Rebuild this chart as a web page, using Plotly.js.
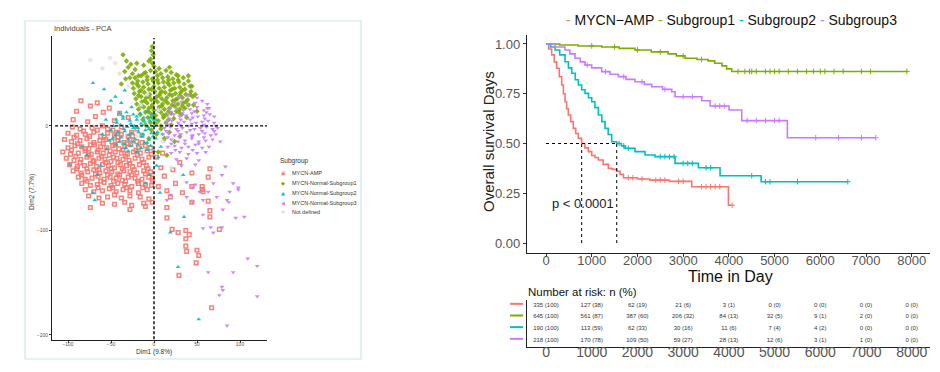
<!DOCTYPE html>
<html><head><meta charset="utf-8">
<script src="https://cdn.plot.ly/plotly-3.0.1.min.js"></script>
<style>html,body{margin:0;padding:0;background:#fff}#chart{width:940px;height:372px}</style>
</head><body><div id="chart"></div>
<script>
// ---------------- PCA (Individuals) data: [Dim1, Dim2] ----------------
const pcaAmp = [[-90,14],[-74,19],[-94,6],[-77,4],[-59,13],[-52,17],[-40,12],[-66,22],[-85,24],[-68,9],[-46,5],[-30,8],
[-95,-1],[-86,-3],[-72,-2],[-60,0],[-48,-4],[-38,-1],[-20,-3],
[-100,-7],[-90,-9],[-80,-8],[-70,-6],[-62,-10],[-54,-7],[-46,-9],[-38,-8],[-30,-10],
[-104,-13],[-96,-15],[-86,-14],[-78,-12],[-70,-16],[-63,-14],[-56,-13],[-49,-15],[-42,-14],[-35,-16],[-28,-13],[-20,-15],
[-100,-21],[-92,-19],[-84,-20],[-76,-22],[-69,-18],[-62,-20],[-55,-21],[-48,-19],[-41,-22],[-34,-20],[-27,-18],[-18,-21],[-10,-19],
[-106,-25],[-97,-27],[-88,-26],[-80,-24],[-73,-27],[-66,-25],[-59,-26],[-52,-28],[-45,-25],[-38,-26],[-31,-27],[-24,-25],[-16,-26],[-8,-24],
[-102,-31],[-93,-33],[-85,-32],[-78,-30],[-71,-33],[-64,-31],[-57,-32],[-50,-34],[-43,-31],[-36,-32],[-29,-33],[-22,-31],[-14,-32],[-6,-30],
[-98,-37],[-89,-39],[-81,-38],[-74,-36],[-67,-39],[-60,-37],[-53,-38],[-46,-40],[-39,-37],[-32,-38],[-25,-39],[-17,-37],[-9,-38],
[-94,-43],[-85,-45],[-77,-44],[-70,-42],[-63,-45],[-56,-43],[-49,-44],[-42,-46],[-35,-43],[-28,-44],[-20,-45],[-12,-43],[-4,-44],
[-88,-49],[-80,-51],[-72,-50],[-65,-48],[-58,-51],[-51,-49],[-44,-50],[-37,-52],[-30,-49],[-22,-50],[-14,-51],[-6,-49],
[-84,-55],[-74,-57],[-66,-56],[-58,-54],[-50,-57],[-42,-55],[-34,-56],[-26,-58],[-18,-55],[-10,-56],[-3,-57],
[-80,-61],[-70,-63],[-60,-62],[-52,-60],[-44,-63],[-36,-61],[-28,-62],[-18,-64],[-8,-61],
[-76,-67],[-64,-69],[-54,-68],[-46,-66],[-38,-69],[-28,-67],[-16,-68],[-6,-70],
[-60,-74],[-46,-75],[-34,-73],[-26,-76],[-12,-74],[-2,-73],[-74,-78],[-28,-80],[-10,-77],
[-82,-5],[-66,-4],[-54,-3],[-42,-6],[-26,-6],
[-93,-11],[-75,-10],[-58,-11],[-42,-11],[-25,-10],[-14,-9],
[-89,-17],[-74,-18],[-59,-17],[-45,-18],[-31,-17],[-14,-16],
[-96,-23],[-80,-22],[-65,-23],[-51,-24],[-36,-23],[-21,-23],[-4,-21],
[-91,-29],[-76,-28],[-61,-29],[-47,-30],[-33,-29],[-19,-28],[-3,-27],
[-86,-35],[-70,-34],[-56,-35],[-42,-35],[-28,-36],[-12,-35],
[-90,-41],[-78,-41],[-64,-42],[-50,-41],[-37,-41],[-23,-42],[-7,-41],
[-84,-47],[-68,-46],[-54,-47],[-40,-47],[-26,-47],[-10,-46],
[-78,-53],[-62,-53],[-47,-53],[-33,-53],[-19,-53],[-2,-52],
[-65,-59],[-48,-59],[-32,-59],[-13,-59],
[3,-30],[8,-40],[-2,-50],[5,-58],[12,-48],[15,-62],[19,-68],[10,-26],[44,-45],[65,-41],[63,-49],[56,-58],[57,-63],[15,-78],
[65,-81],[15,-88],[21,-99],[28,-102],[37,-100],[37,-108],[41,-104],[37,-115],[38,-120],[50,-119],[52,-124],[49,-131],
[29,-143],[67,-174],[76,-99],[65,-87],[63,-72],[56,-61],[44,-73],[33,-64],[44,-58],[25,-55],[30,-35],[22,-42]];
const pcaSub1 = [[-3,72],[-1,68],[-4,64],[-2,60],[0,57],[-6,62],[-2,76],
[-36,68],[-32,62],[-30,56],[-27,59],[-34,52],[-25,50],[-22,54],[-28,46],[-33,45],[-20,60],[-18,48],[-12,58],[-38,40],
[-10,51],[-4,53],[2,52],[8,50],[14,53],[20,51],[26,49],
[-22,46],[-15,48],[-8,47],[-2,45],[4,48],[10,46],[16,47],[22,45],[28,48],[34,46],
[-25,41],[-19,43],[-13,42],[-7,40],[-1,43],[5,41],[11,42],[17,44],[23,41],[29,42],[35,40],[40,43],
[-24,36],[-18,38],[-12,37],[-6,35],[0,38],[6,36],[12,37],[18,39],[24,36],[30,37],[36,35],[42,38],
[-23,31],[-17,33],[-11,32],[-5,30],[1,33],[7,31],[13,32],[19,34],[25,31],[31,32],[37,30],[43,33],
[-21,26],[-15,28],[-9,27],[-3,25],[3,28],[9,26],[15,27],[21,29],[27,26],[33,27],[39,25],[45,28],
[-20,21],[-14,23],[-8,22],[-2,20],[4,23],[10,21],[16,22],[22,24],[28,21],[34,22],[40,20],
[-18,16],[-12,18],[-6,17],[0,15],[6,18],[12,16],[18,17],[24,19],[30,16],[36,17],
[-16,11],[-10,13],[-4,12],[2,10],[8,13],[14,11],[20,12],[26,14],[32,11],
[-13,6],[-7,8],[-1,7],[5,5],[11,8],[17,6],[23,7],
[-10,1],[-4,3],[2,2],[8,0],[14,3],[20,1],
[-20,40],[-8,44],[4,44],[16,41],[28,44],[-15,34],[-3,35],[9,33],[21,35],[33,34],[-18,29],[-6,28],[6,29],[18,30],[30,29],[42,30],
[-11,24],[1,25],[13,24],[25,25],[37,23],[-15,19],[-3,18],[9,19],[21,20],[33,19],[-7,14],[5,15],[17,14],[29,13],[-1,9],[11,10],
[-12,50],[6,55],[18,56],
[44,38],[48,30],[40,48],[46,20],[50,14],[38,8],[-3,-4],[3,-8],[8,-3],[12,-12],[18,-6],[24,-15],[-6,-12],[30,-10],[5,-25],[15,-28]];
const pcaSub2 = [[-71,41],[-58,35],[-34,34],[-45,28],[-50,24],[-38,22],[-98,-37],[-66,-47],[-71,-64],[-69,-71],[-10,-55],[-5,-47],
[34,-47],[35,-87],[19,-102],[28,-135],[52,-185],[7,-64],[-84,-20],[-78,-28],[-62,-38],[-55,-22],
[-40,12],[-32,13],[-24,11],[-16,12],[-8,14],[-2,11],
[-44,6],[-36,7],[-28,5],[-20,6],[-12,8],[-5,5],[2,6],
[-47,0],[-39,1],[-31,-1],[-23,0],[-15,2],[-7,-1],[0,0],
[-42,-6],[-34,-5],[-26,-7],[-18,-6],[-10,-4],[-3,-7],[4,-6],
[-48,-12],[-38,-11],[-30,-13],[-22,-12],[-14,-10],[-6,-13],[2,-12],
[-44,-18],[-35,-17],[-27,-19],[-19,-18],[-11,-16],[-4,-19],
[-30,-24],[-20,-25],[-8,-23],[0,-24],
[-36,9],[-20,9],[-4,8],[-43,3],[-27,2],[-11,4],[-35,-3],[-19,-2],[-6,-3],[-45,-9],[-29,-9],[-13,-8],[-1,-10],
[-40,-15],[-24,-15],[-8,-16],[-33,-21],[-15,-21],[-24,-2],[-50,-4],
[5,-30],[8,-20],[3,-38],[10,-8],[-52,-14],[-60,-8],[-26,18],[-14,20],[-56,6]];
const pcaSub3 = [[30,28],[40,29],[50,27],
[24,22],[32,23],[40,21],[48,22],[56,24],[62,21],
[18,16],[26,17],[34,15],[42,16],[50,18],[58,15],[64,17],
[16,10],[23,11],[30,9],[37,10],[44,12],[51,9],[58,10],[65,11],[70,9],
[14,4],[21,5],[28,3],[35,4],[42,6],[49,3],[56,4],[63,5],[70,3],
[12,-2],[19,-1],[26,-3],[33,-2],[40,0],[47,-3],[54,-2],[61,-1],[68,-3],[74,-2],
[10,-8],[17,-7],[24,-9],[31,-8],[38,-6],[45,-9],[52,-8],[59,-7],[66,-9],[72,-8],
[12,-14],[20,-13],[28,-15],[36,-14],[44,-12],[52,-15],[60,-14],[68,-13],
[16,-20],[24,-19],[32,-21],[40,-20],[48,-18],[56,-21],[64,-20],
[20,-26],[30,-25],[40,-27],[50,-26],[60,-25],
[26,-32],[38,-31],[52,-33],[32,-38],[48,-37],
[20,13],[33,12],[47,14],[61,13],[17,7],[31,6],[45,8],[59,7],[16,1],[30,1],[44,2],[58,1],[72,0],
[14,-5],[28,-5],[42,-4],[56,-5],[70,-5],[16,-11],[30,-11],[44,-10],[58,-11],[20,-17],[36,-17],[52,-17],[25,-23],[45,-23],
[62,17],[77,-15],[83,-39],[79,-47],[88,-63],[98,-59],[69,-55],[63,-63],[53,-63],[57,-71],[45,-73],[19,-66],[15,-71],
[38,-54],[48,-56],[73,-68],[85,-71],[80,-80],[92,-55],[98,-61],[87,-73],[95,-88],[105,-87],[57,-85],[66,-97],[79,-97],
[57,-98],[69,-102],[63,-140],[92,-140],[109,-127],[120,-134],[79,-154],[80,-157],[76,-162],[120,-163],[85,-191],[45,-59],[38,-68]];
const pcaNotDef = [[-74,63],[-51,65],[-45,60],[-60,55],[-30,38],[-15,20],[5,15],[-20,-10],[10,-15],[20,-40],[-8,30],[-40,50]];

const pcaGroups = ["MYCN-AMP","MYCN-Normal-Subgroup1","MYCN-Normal-Subgroup2","MYCN-Normal-Subgroup3","Not defined"];
const pcaTicksX = [-100,-50,0,50,100];
const pcaTicksY = [-200,-100,0];

// ---------------- Kaplan-Meier data ----------------
const kmNames = ["MYCN\u2212AMP","Subgroup1","Subgroup2","Subgroup3"];
const ampT = [0,60,124,180,234,290,343,380,416,450,488,540,597,650,707,780,850,926,1000,1070,1145,1250,1364,1450,1547,1620,1693,2000,2270,2700,3188,3990,4070];
const ampS = [1,0.975,0.945,0.91,0.878,0.835,0.794,0.75,0.71,0.675,0.643,0.61,0.576,0.55,0.526,0.5,0.478,0.459,0.44,0.43,0.417,0.395,0.375,0.37,0.36,0.345,0.328,0.322,0.316,0.31,0.283,0.19,0.19];
const sub1T = [0,300,700,1218,1600,1947,2300,2670,2850,3041,3300,3545,3690,3850,3950,4063,7893];
const sub1S = [1,0.995,0.99,0.985,0.978,0.97,0.96,0.95,0.94,0.928,0.922,0.915,0.903,0.89,0.875,0.862,0.862];
const sub2T = [0,100,197,300,416,490,562,640,707,780,853,930,1000,1070,1145,1220,1291,1360,1437,1547,1650,1729,1947,2166,2385,2823,3333,3807,4705,6602];
const sub2S = [1,0.985,0.97,0.945,0.911,0.88,0.853,0.82,0.794,0.77,0.752,0.73,0.71,0.68,0.643,0.61,0.576,0.545,0.509,0.5,0.488,0.476,0.459,0.442,0.434,0.4,0.378,0.338,0.308,0.308];
const sub3T = [0,200,416,520,635,750,853,1000,1218,1400,1583,1750,1947,2150,2313,2550,2750,2823,3407,3590,4004,4282,5280,7214];
const sub3S = [1,0.985,0.97,0.95,0.928,0.91,0.894,0.88,0.861,0.848,0.836,0.822,0.81,0.797,0.785,0.772,0.76,0.735,0.715,0.688,0.668,0.615,0.529,0.529];
// censoring times
const ampC = [1800,1900,2100,2400,2500,2600,2900,3000,3400,3500,3600,3700,3800,4070];
const sub1C = [1000,1500,2000,2500,3000,3400,4200,4350,4450,4500,4600,4800,4900,5000,5100,5300,5500,5700,5850,6000,6100,6300,6500,6900,7100,7893];
const sub2C = [1600,1700,1800,2500,2600,2700,2800,3000,3100,3200,3500,3600,4500,4800,4900,5500,6602];
const sub3C = [900,1300,1700,2100,2600,3000,3200,3700,3800,3900,4400,4600,4800,5000,5100,5900,6400,6900,7214];
const pValue = "p < 0.0001";

// ---------------- Number at risk table ----------------
const riskTimes = [0,1000,2000,3000,4000,5000,6000,7000,8000];
const riskAmp  = ["335 (100)","127 (38)","62 (19)","21 (6)","3 (1)","0 (0)","0 (0)","0 (0)","0 (0)"];
const riskSub1 = ["645 (100)","561 (87)","387 (60)","206 (32)","84 (13)","32 (5)","9 (1)","2 (0)","0 (0)"];
const riskSub2 = ["190 (100)","113 (59)","62 (33)","30 (16)","11 (6)","7 (4)","4 (2)","0 (0)","0 (0)"];
const riskSub3 = ["218 (100)","170 (78)","109 (50)","59 (27)","28 (13)","12 (6)","3 (1)","1 (0)","0 (0)"];

// ---------------- styles ----------------
const COLS = ["#F8766D","#7CAE00","#00BFC4","#C77CFF"];
const FONT = "Liberation Sans, Arial, sans-serif";
const W = 940, H = 372;
const px = v => v / W, py = v => 1 - v / H;

function stepAt(T, S, t){ let s = S[0]; for (let i=0;i<T.length;i++){ if (T[i] <= t) s = S[i]; } return s; }
function median(T, S){ for (let i=0;i<T.length;i++){ if (S[i] <= 0.5) return T[i]; } return null; }

const traces = [];
const pcaSets = [pcaAmp, pcaSub1, pcaSub2, pcaSub3];
const pcaSym = ["square-open","diamond","triangle-up","triangle-down"];
pcaSets.forEach((set, i) => {
  traces.push({type:"scatter", mode:"markers", xaxis:"x", yaxis:"y", name:pcaGroups[i], showlegend:false,
    x:set.map(p=>p[0]), y:set.map(p=>p[1]),
    marker:{symbol:pcaSym[i], size: i===0?3.6:4.2, color:COLS[i], opacity:0.9, line:{color:COLS[i], width: i===0?1.5:0}}});
});
traces.push({type:"scatter", mode:"markers", xaxis:"x", yaxis:"y", name:pcaGroups[4], showlegend:false,
  x:pcaNotDef.map(p=>p[0]), y:pcaNotDef.map(p=>p[1]),
  marker:{symbol:"asterisk-open", size:4, color:"#e2e2e2", line:{color:"#e2e2e2", width:1}}});

const kmT = [ampT, sub1T, sub2T, sub3T], kmS = [ampS, sub1S, sub2S, sub3S], kmC = [ampC, sub1C, sub2C, sub3C];
for (let i=0;i<4;i++){
  traces.push({type:"scatter", mode:"lines", xaxis:"x2", yaxis:"y2", name:kmNames[i], showlegend:false,
    x:kmT[i], y:kmS[i], line:{shape:"hv", color:COLS[i], width:1.6}});
  traces.push({type:"scatter", mode:"markers", xaxis:"x2", yaxis:"y2", showlegend:false, hoverinfo:"skip",
    x:kmC[i], y:kmC[i].map(t=>stepAt(kmT[i], kmS[i], t)),
    marker:{symbol:"cross-thin-open", size:4, color:COLS[i], line:{color:COLS[i], width:1}}});
}
const riskRows = [riskAmp, riskSub1, riskSub2, riskSub3];
riskRows.forEach((row, i) => {
  traces.push({type:"scatter", mode:"text", xaxis:"x3", yaxis:"y3", showlegend:false, cliponaxis:false,
    x:riskTimes, y:riskTimes.map(()=>4-i), text:row,
    textfont:{family:FONT, size:6, color:"#333"}});
});

const ampMed = median(ampT, ampS), sub2Med = median(sub2T, sub2S);

const shapes = [
  {type:"rect", xref:"paper", yref:"paper", x0:px(25), x1:px(361), y0:py(359), y1:py(21), line:{color:"#cde6ea", width:1.2}},
  {type:"line", xref:"x", yref:"y", x0:-115, x1:132, y0:0, y1:0, line:{color:"#000", width:1.4, dash:"3px,2px"}},
  {type:"line", xref:"x", yref:"y", x0:0, x1:0, y0:-204, y1:84, line:{color:"#000", width:1.4, dash:"3px,2px"}},
  {type:"line", xref:"x2", yref:"y2", x0:0, x1:sub2Med, y0:0.5, y1:0.5, line:{color:"#000", width:1, dash:"dot"}},
  {type:"line", xref:"x2", yref:"y2", x0:ampMed, x1:ampMed, y0:0, y1:0.5, line:{color:"#000", width:1, dash:"dot"}},
  {type:"line", xref:"x2", yref:"y2", x0:sub2Med, x1:sub2Med, y0:0, y1:0.5, line:{color:"#000", width:1, dash:"dot"}}
];
for (let i=0;i<4;i++){
  shapes.push({type:"line", xref:"paper", yref:"y3", x0:px(510), x1:px(523), y0:4-i+0.1, y1:4-i+0.1, line:{color:COLS[i], width:2}});
}

const ann = [];
function A(o){ ann.push(Object.assign({showarrow:false, xref:"paper", yref:"paper"}, o)); }
A({x:px(52), y:py(28), xanchor:"left", yanchor:"middle", text:"Individuals - PCA", font:{family:FONT, size:7.5, color:"#444"}});
A({x:px(154), y:py(352), xanchor:"center", yanchor:"middle", text:"Dim1 (9.8%)", font:{family:FONT, size:6.5, color:"#333"}});
A({x:px(32), y:py(192), xanchor:"center", yanchor:"middle", textangle:-90, text:"Dim2 (7.7%)", font:{family:FONT, size:6.5, color:"#333"}});
A({x:px(278), y:py(161), xanchor:"left", yanchor:"middle", text:"Subgroup", font:{family:FONT, size:6.5, color:"#333"}});
const legSym = ["\u25A3","\u25C6","\u25B2","\u25C0","\u2731"];
const legCol = COLS.concat(["#dddddd"]);
const legY = [173,183,193,203,212];
pcaGroups.forEach((g,i)=>{
  A({x:px(283), y:py(legY[i]), xanchor:"center", yanchor:"middle", text:legSym[i], font:{family:"DejaVu Sans", size:5, color:legCol[i]}});
  A({x:px(290), y:py(legY[i]), xanchor:"left", yanchor:"middle", text:g, font:{family:FONT, size:5.5, color:"#333"}});
});
const legText = kmNames.map((n,i)=>'<span style="color:'+COLS[i]+'">-</span> '+n).join(' ');
A({x:px(731), y:py(20), xanchor:"center", yanchor:"middle", text:legText, font:{family:FONT, size:14, color:"#111"}});
A({x:px(488), y:py(142), xanchor:"center", yanchor:"middle", textangle:-90, text:"Overall survival Days", font:{family:FONT, size:15, color:"#222"}});
A({x:px(730), y:py(276), xanchor:"center", yanchor:"middle", text:"Time in Day", font:{family:FONT, size:16, color:"#111"}});
A({xref:"x2", yref:"y2", x:810, y:0.2, xanchor:"center", yanchor:"middle", text:pValue, font:{family:FONT, size:13, color:"#222"}});
A({x:px(526), y:py(292), xanchor:"left", yanchor:"middle", text:"Number at risk: n (%)", font:{family:FONT, size:11.5, color:"#111"}});

const tickGray = "#555";
const layout = {
  width:W, height:H, margin:{l:0,r:0,t:0,b:0}, paper_bgcolor:"#fff", plot_bgcolor:"rgba(0,0,0,0)",
  showlegend:false, font:{family:FONT},
  xaxis:{domain:[px(52), px(267)], range:[-118.6,131.4], anchor:"y", showgrid:false, zeroline:false, showline:true, linecolor:"#222", linewidth:1,
    ticks:"outside", ticklen:2, tickcolor:"#333", tickvals:pcaTicksX, ticklabelstandoff:-3, tickfont:{family:FONT, size:5, color:tickGray}},
  yaxis:{domain:[py(340), py(36)], range:[-204.8,86], anchor:"x", showgrid:false, zeroline:false, showline:true, linecolor:"#222", linewidth:1,
    ticks:"outside", ticklen:2, tickcolor:"#333", tickvals:pcaTicksY, tickfont:{family:FONT, size:5, color:tickGray}},
  xaxis2:{domain:[px(527), px(930)], range:[-416,8400], anchor:"y2", showgrid:false, zeroline:false, showline:true, linecolor:"#222", linewidth:1.2,
    ticks:"outside", ticklen:3, tickcolor:"#333", tickvals:riskTimes, ticklabelstandoff:-8, tickfont:{family:FONT, size:13, color:tickGray}},
  yaxis2:{domain:[py(253), py(35)], range:[-0.05,1.045], anchor:"x2", showgrid:false, zeroline:false, showline:true, linecolor:"#222", linewidth:1.2,
    ticks:"outside", ticklen:3, tickcolor:"#333", tickvals:[0,0.25,0.5,0.75,1], ticktext:["0.00","0.25","0.50","0.75","1.00"], tickfont:{family:FONT, size:13, color:tickGray}},
  xaxis3:{domain:[px(527), px(930)], range:[-416,8400], anchor:"y3", showgrid:false, zeroline:false, showline:true, linecolor:"#222", linewidth:1.2,
    ticks:"", tickvals:riskTimes, ticklabelstandoff:-8, tickfont:{family:FONT, size:14, color:tickGray}},
  yaxis3:{domain:[py(347), py(300)], range:[0.4,4.43], anchor:"x3", showgrid:false, zeroline:false, showline:true, linecolor:"#222", linewidth:1.2,
    ticks:"", showticklabels:false},
  shapes:shapes, annotations:ann
};
Plotly.newPlot("chart", traces, layout, {staticPlot:true, displayModeBar:false});
</script></body></html>
